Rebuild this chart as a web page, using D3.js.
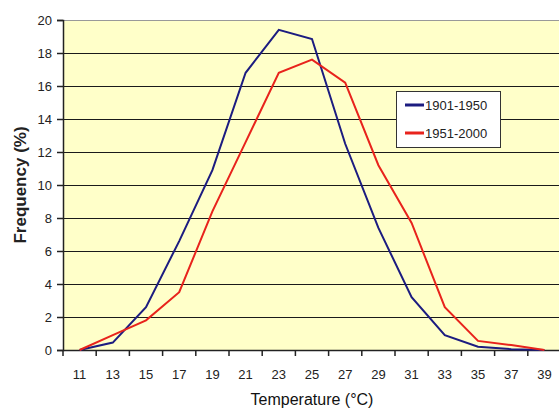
<!DOCTYPE html>
<html>
<head>
<meta charset="utf-8">
<script src="https://cdn.jsdelivr.net/npm/d3@7"></script>
<style>
  body { margin: 0; background: #fff; }
  svg text { font-family: Arial, "Liberation Sans", sans-serif; }
</style>
</head>
<body>
<div id="chart"></div>
<script>
// data
var temps = ["11", "13", "15", "17", "19", "21", "23", "25", "27", "29", "31", "33", "35", "37", "39"];
var freq1901 = [0, 0.45, 2.6, 6.6, 10.9, 16.8, 19.4, 18.85, 12.5, 7.4, 3.2, 0.9, 0.2, 0.05, 0];
var freq1951 = [0, 0.9, 1.8, 3.5, 8.4, 12.6, 16.8, 17.6, 16.2, 11.2, 7.7, 2.6, 0.55, 0.3, 0];
var yTicks = [0, 2, 4, 6, 8, 10, 12, 14, 16, 18, 20];

var series = [
  { name: "1901-1950", values: freq1901, color: "#1c1c80" },
  { name: "1951-2000", values: freq1951, color: "#e8231c" }
];

var svgWidth = 559;
var svgHeight = 409;

var margin = { top: 20, right: -2, bottom: 59, left: 63 };
var width = svgWidth - margin.left - margin.right;
var height = svgHeight - margin.top - margin.bottom;

var svg = d3.select("#chart")
  .append("svg")
  .attr("width", svgWidth)
  .attr("height", svgHeight);

var chartGroup = svg.append("g")
  .attr("transform", `translate(${margin.left}, ${margin.top})`);

var xScale = d3.scaleBand()
  .domain(temps)
  .range([0, width]);

var yScale = d3.scaleLinear()
  .domain([0, 20])
  .range([height, 0]);

// plot background
chartGroup.append("rect")
  .attr("width", width)
  .attr("height", height)
  .attr("fill", "#ffffc9");

// gridlines
chartGroup.selectAll(".grid")
  .data(yTicks.slice(1))
  .enter()
  .append("line")
  .attr("x1", 0)
  .attr("x2", width)
  .attr("y1", d => Math.round(yScale(d)) + 0.5)
  .attr("y2", d => Math.round(yScale(d)) + 0.5)
  .attr("stroke", d => d === 20 ? "#999" : "#1a1a1a")
  .attr("stroke-width", 1.2);

// x axis with ticks between categories
var bottomAxis = d3.axisBottom(xScale).tickSize(0).tickPadding(20);
var xAxis = chartGroup.append("g")
  .attr("transform", `translate(0, ${height})`)
  .call(bottomAxis);
xAxis.select(".domain").attr("stroke", "#222").attr("stroke-width", 1.5);
xAxis.selectAll("text").attr("font-size", "13px").attr("fill", "#222");

chartGroup.selectAll(".xtick")
  .data(temps)
  .enter()
  .append("line")
  .attr("x1", d => xScale(d))
  .attr("x2", d => xScale(d))
  .attr("y1", height)
  .attr("y2", height + 6)
  .attr("stroke", "#222")
  .attr("stroke-width", 1.5);

// y axis
var leftAxis = d3.axisLeft(yScale).tickValues(yTicks).tickSize(6).tickPadding(5);
var yAxis = chartGroup.append("g").call(leftAxis);
yAxis.select(".domain").attr("stroke", "#222").attr("stroke-width", 1.5);
yAxis.selectAll(".tick line").attr("stroke", "#222").attr("stroke-width", 1.5);
yAxis.selectAll("text").attr("font-size", "13px").attr("fill", "#222");

// lines
var line = d3.line()
  .x((d, i) => xScale(temps[i]) + xScale.bandwidth() / 2)
  .y(d => yScale(d));

chartGroup.selectAll(".series")
  .data(series)
  .enter()
  .append("path")
  .attr("d", d => line(d.values))
  .attr("fill", "none")
  .attr("stroke", d => d.color)
  .attr("stroke-width", 2);

// legend
var legend = svg.append("g")
  .attr("transform", "translate(396, 91)");

legend.append("rect")
  .attr("x", 0.5)
  .attr("y", 0.5)
  .attr("width", 104)
  .attr("height", 56)
  .attr("fill", "#fff")
  .attr("stroke", "#333")
  .attr("stroke-width", 1);

var legendItems = legend.selectAll(".item")
  .data(series)
  .enter()
  .append("g")
  .attr("transform", (d, i) => `translate(0, ${14 + i * 28})`);

legendItems.append("line")
  .attr("x1", 9)
  .attr("x2", 28)
  .attr("y1", 0)
  .attr("y2", 0)
  .attr("stroke", d => d.color)
  .attr("stroke-width", 3);

legendItems.append("text")
  .attr("x", 29)
  .attr("y", 5)
  .attr("font-size", "13px")
  .attr("fill", "#222")
  .text(d => d.name);

// axis titles
svg.append("text")
  .attr("transform", "translate(26, 185) rotate(-90)")
  .attr("text-anchor", "middle")
  .attr("font-size", "17px")
  .attr("font-weight", "bold")
  .attr("fill", "#222")
  .text("Frequency (%)");

svg.append("text")
  .attr("x", 312)
  .attr("y", 405)
  .attr("text-anchor", "middle")
  .attr("font-size", "16px")
  .attr("fill", "#111")
  .text("Temperature (°C)");
</script>
</body>
</html>
